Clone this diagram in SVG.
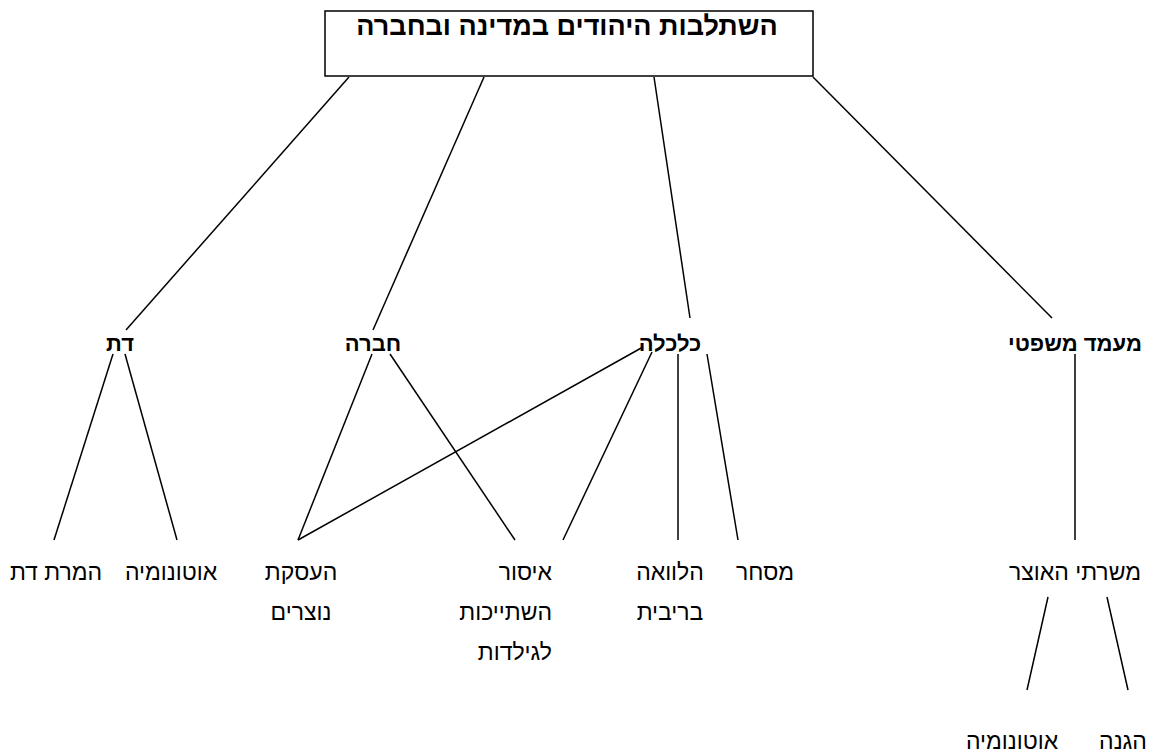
<svg xmlns="http://www.w3.org/2000/svg" width="1173" height="756" viewBox="0 0 1173 756">
<style>
text{font-family:"Liberation Sans","Arial","DejaVu Sans",sans-serif;fill:#000;}
.t{font-size:27px;font-weight:bold;}
.b{font-size:22px;font-weight:bold;}
.r{font-size:23px;}
.c line{stroke:#000;stroke-width:1.5;}
</style>
<rect width="1173" height="756" fill="#fff"/>
<g id="root">
<rect x="325" y="11" width="488" height="65" fill="#fff" stroke="#000" stroke-width="1.5"/>
<text class="t" x="567" y="35" text-anchor="middle">השתלבות היהודים במדינה ובחברה</text>
</g>
<g id="dat"><text class="b" x="120" y="351" text-anchor="middle">דת</text></g>
<g id="hevra"><text class="b" x="373" y="351" text-anchor="middle">חברה</text></g>
<g id="kalkala"><text class="b" x="670" y="351" text-anchor="middle">כלכלה</text></g>
<g id="maamad"><text class="b" x="1075" y="351" text-anchor="middle">מעמד משפטי</text></g>
<g id="hamarat"><text class="r" x="56" y="580" text-anchor="middle">המרת דת</text></g>
<g id="autonomia1"><text class="r" x="171" y="580" text-anchor="middle">אוטונומיה</text></g>
<g id="haasakat"><text class="r" x="301" y="580" text-anchor="middle">העסקת</text><text class="r" x="301" y="620" text-anchor="middle">נוצרים</text></g>
<g id="isur"><text class="r" x="552" y="580" text-anchor="end">איסור</text><text class="r" x="552" y="620" text-anchor="end">השתייכות</text><text class="r" x="552" y="660" text-anchor="end">לגילדות</text></g>
<g id="halvaa"><text class="r" x="670" y="580" text-anchor="middle">הלוואה</text><text class="r" x="670" y="620" text-anchor="middle">בריבית</text></g>
<g id="mishar"><text class="r" x="765" y="580" text-anchor="middle">מסחר</text></g>
<g id="mesharetey"><text class="r" x="1075" y="580" text-anchor="middle">משרתי האוצר</text></g>
<g id="autonomia2"><text class="r" x="1012" y="749" text-anchor="middle">אוטונומיה</text></g>
<g id="hagana"><text class="r" x="1123" y="749" text-anchor="middle">הגנה</text></g>
<g id="connectors" class="c">
<line x1="349" y1="77" x2="126" y2="330"/>
<line x1="484" y1="77" x2="373" y2="330"/>
<line x1="654" y1="77" x2="690" y2="318"/>
<line x1="813" y1="77" x2="1052" y2="318"/>
<line x1="113" y1="354" x2="54" y2="540"/>
<line x1="125" y1="354" x2="177" y2="540"/>
<line x1="372" y1="354" x2="298" y2="540"/>
<line x1="390" y1="354" x2="515" y2="540"/>
<line x1="643" y1="347" x2="298" y2="540"/>
<line x1="652" y1="352" x2="563" y2="540"/>
<line x1="678" y1="354" x2="678" y2="540"/>
<line x1="707" y1="354" x2="738" y2="540"/>
<line x1="1075" y1="354" x2="1075" y2="540"/>
<line x1="1048" y1="597" x2="1027" y2="690"/>
<line x1="1107" y1="597" x2="1128" y2="690"/>
</g>
</svg>
